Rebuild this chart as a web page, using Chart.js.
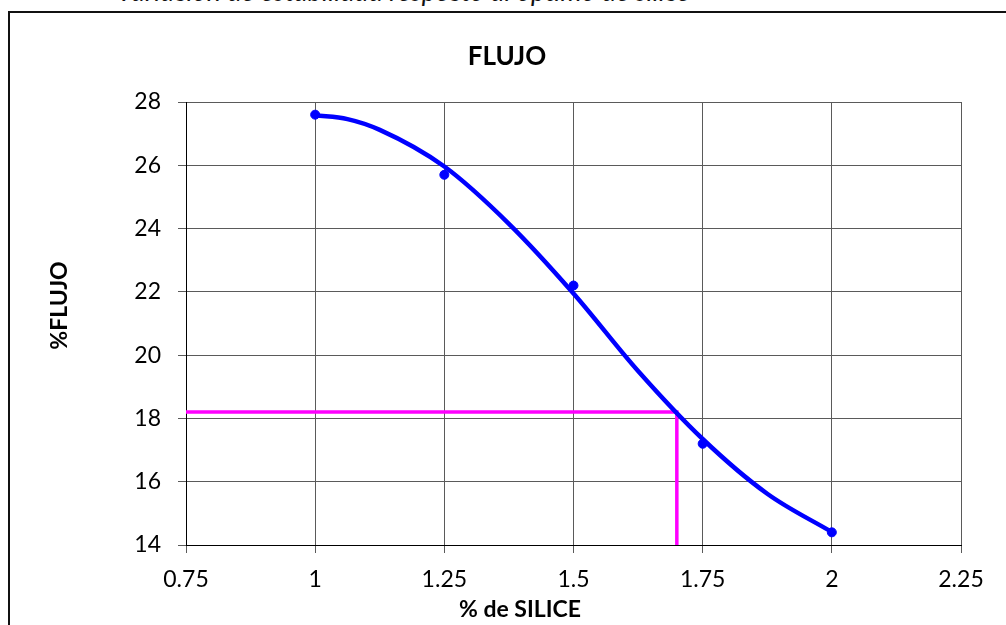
<!DOCTYPE html>
<html>
<head>
<meta charset="utf-8">
<script src="https://cdn.jsdelivr.net/npm/chart.js@4.4.1/dist/chart.umd.min.js"></script>
<style>
  html, body { margin: 0; padding: 0; background: #fff; overflow: hidden; }
  body { width: 1006px; height: 625px; position: relative; }
  #caption {
    position: absolute; right: 316px; top: -26px;
    font: italic 27px Lato, sans-serif; color: #111; white-space: nowrap;
  }
  #frame {
    position: absolute; left: 8px; top: 11px; width: 1100px; height: 700px;
    border: 2px solid #111;
  }
  #wrap { position: absolute; left: 0; top: 0; width: 1006px; height: 625px; }
</style>
</head>
<body>
<div id="caption">Variación de estabilidad respecto al óptimo de sílice</div>
<div id="frame"></div>
<div id="wrap"><canvas id="chart"></canvas></div>
<script>
/* =========================================================
   DATA
========================================================= */
const silice = [1, 1.25, 1.5, 1.75, 2];
const flujo  = [27.6, 25.7, 22.2, 17.2, 14.4];

// trend curve
const trendX = [1, 1.0625, 1.125, 1.25, 1.375, 1.5, 1.625, 1.75, 1.875, 2];
const trendY = [27.58, 27.46, 27.12, 25.96, 24.15, 21.95, 19.5, 17.35, 15.62, 14.41];

// reference marks
const refSilice = 1.7;
const refFlujo  = 18.2;

const xTicks = [0.75, 1, 1.25, 1.5, 1.75, 2, 2.25];
const yTicks = [14, 16, 18, 20, 22, 24, 26, 28];

/* =========================================================
   HELPERS
========================================================= */
const pts = (xs, ys) => xs.map((x, i) => ({ x, y: ys[i] }));

const titlesPlugin = {
  id: "titles",
  afterDraw(chart) {
    const c = chart.ctx;
    const a = chart.chartArea;
    c.save();
    c.fillStyle = "#000";
    c.textAlign = "center";
    c.textBaseline = "middle";
    c.font = "bold 26px Lato";
    c.fillText("FLUJO", 507, 57);
    c.font = "bold 23px Lato";
    c.fillText("% de SILICE", 520, 610);
    c.translate(60, (a.top + a.bottom) / 2 - 18);
    c.rotate(-Math.PI / 2);
    c.fillText("%FLUJO", 0, 0);
    c.restore();
  }
};

/* =========================================================
   CHART
========================================================= */
const gridColor = "#5a5a5a";

new Chart(document.getElementById("chart"), {
  type: "scatter",
  data: {
    datasets: [
      {
        type: "scatter",
        data: pts(silice, flujo),
        backgroundColor: "#0000ff",
        borderColor: "#0000ff",
        pointRadius: 4.5,
        pointHoverRadius: 4.5,
        order: 0
      },
      {
        type: "line",
        data: pts(trendX, trendY),
        borderColor: "#0000ff",
        borderWidth: 4.5,
        pointRadius: 0,
        cubicInterpolationMode: "monotone",
        fill: false,
        order: 1
      },
      {
        type: "line",
        data: [
          { x: xTicks[0], y: refFlujo },
          { x: refSilice, y: refFlujo },
          { x: refSilice, y: yTicks[0] }
        ],
        borderColor: "#ff00ff",
        borderWidth: 3.5,
        pointRadius: 0,
        tension: 0,
        fill: false,
        order: 2
      }
    ]
  },
  options: {
    responsive: true,
    maintainAspectRatio: false,
    animation: false,
    events: [],
    layout: { padding: { top: 102, right: 45, bottom: 0, left: 0 } },
    plugins: {
      legend: { display: false },
      tooltip: { enabled: false },
      title: { display: false }
    },
    scales: {
      x: {
        type: "linear",
        min: xTicks[0],
        max: xTicks[xTicks.length - 1],
        afterBuildTicks: s => { s.ticks = xTicks.map(v => ({ value: v })); },
        afterFit: s => { s.height = 80; },
        ticks: {
          color: "#000",
          font: { family: "Lato", size: 23 },
          padding: 13,
          callback: v => String(v)
        },
        grid: { color: gridColor, tickLength: 8, tickColor: gridColor },
        border: { color: "#000", width: 1 }
      },
      y: {
        type: "linear",
        min: yTicks[0],
        max: yTicks[yTicks.length - 1],
        afterBuildTicks: s => { s.ticks = yTicks.map(v => ({ value: v })); },
        afterFit: s => { s.width = 186; },
        ticks: {
          color: "#000",
          font: { family: "Lato", size: 23 },
          padding: 17,
          callback: v => String(v)
        },
        grid: { color: gridColor, tickLength: 8, tickColor: gridColor },
        border: { color: "#000", width: 1 }
      }
    }
  },
  plugins: [titlesPlugin]
});
</script>
</body>
</html>
